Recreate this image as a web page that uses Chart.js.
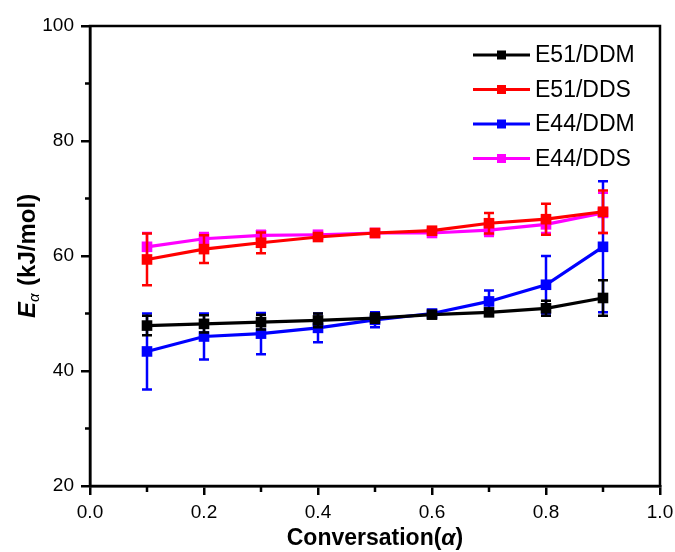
<!DOCTYPE html>
<html>
<head>
<meta charset="utf-8">
<script src="https://cdn.jsdelivr.net/npm/chart.js@4/dist/chart.umd.min.js"></script>
<style>
  html, body { margin: 0; padding: 0; background: #fff; }
  #wrap { width: 675px; height: 552px; }
</style>
</head>
<body>
<div id="wrap"><canvas id="eaChart" width="675" height="552"></canvas></div>
<script>
// conversion values on the x axis
const conversion = [0.1, 0.2, 0.3, 0.4, 0.5, 0.6, 0.7, 0.8, 0.9];

// Eα values (kJ/mol), with error bar half-widths
const e51ddm    = [47.9, 48.2, 48.5, 48.8, 49.2, 49.8, 50.2, 50.9, 52.7];
const e51ddmErr = [1.7, 1.5, 1.3, 1.2, 0.8, 0.5, 0.5, 1.3, 3.1];
const e51dds    = [59.4, 61.2, 62.3, 63.3, 64.0, 64.4, 65.7, 66.4, 67.7];
const e51ddsErr = [4.5, 2.4, 1.8, 0.6, 0.5, 0.6, 1.8, 2.7, 3.7];
const e44ddm    = [43.4, 46.0, 46.5, 47.5, 48.9, 50.0, 52.1, 55.0, 61.6];
const e44ddmErr = [6.6, 4.0, 3.6, 2.5, 1.3, 0.3, 1.9, 5.0, 11.4];
const e44dds    = [61.6, 63.0, 63.6, 63.7, 64.0, 64.0, 64.5, 65.5, 67.5];
const e44ddsErr = [2.4, 1.0, 0.8, 0.6, 0.4, 0.5, 1.0, 1.5, 3.5];

const seriesNames = ['E51/DDM', 'E51/DDS', 'E44/DDM', 'E44/DDS'];
const seriesColors = ['#000000', '#ff0000', '#0000ff', '#ff00ff'];

// minor tick positions
const xMinorTicks = [0.1, 0.3, 0.5, 0.7, 0.9];
const yMinorTicks = [30, 50, 70, 90];

const FONT = '"Liberation Sans", Arial, sans-serif';

const allValues = [e51ddm, e51dds, e44ddm, e44dds];
const allErrors = [e51ddmErr, e51ddsErr, e44ddmErr, e44ddsErr];

function toPoints(vals) {
    return conversion.map((x, i) => ({ x: x, y: vals[i] }));
}

// error bars, drawn under each dataset's line
const errorBars = {
    id: 'errorBars',
    beforeDatasetDraw(chart, args) {
        const i = args.index;
        const ctx = chart.ctx;
        const xs = chart.scales.x, ys = chart.scales.y;
        ctx.save();
        ctx.strokeStyle = seriesColors[i];
        ctx.lineWidth = 2.5;
        allValues[i].forEach((v, j) => {
            const px = xs.getPixelForValue(conversion[j]);
            const top = ys.getPixelForValue(v + allErrors[i][j]);
            const bot = ys.getPixelForValue(v - allErrors[i][j]);
            ctx.beginPath();
            ctx.moveTo(px, top); ctx.lineTo(px, bot);
            ctx.moveTo(px - 5, top); ctx.lineTo(px + 5, top);
            ctx.moveTo(px - 5, bot); ctx.lineTo(px + 5, bot);
            ctx.stroke();
        });
        ctx.restore();
    }
};

// frame, minor ticks, legend and axis titles
const decorations = {
    id: 'decorations',
    afterDraw(chart) {
        const ctx = chart.ctx;
        const a = chart.chartArea;
        const xs = chart.scales.x, ys = chart.scales.y;
        ctx.save();
        ctx.strokeStyle = '#000';
        ctx.lineWidth = 2.5;
        ctx.strokeRect(a.left, a.top, a.right - a.left, a.bottom - a.top);

        ctx.beginPath();
        xMinorTicks.forEach(v => {
            const px = xs.getPixelForValue(v);
            ctx.moveTo(px, a.bottom); ctx.lineTo(px, a.bottom + 6);
        });
        yMinorTicks.forEach(v => {
            const py = ys.getPixelForValue(v);
            ctx.moveTo(a.left, py); ctx.lineTo(a.left - 5, py);
        });
        ctx.stroke();

        // legend
        seriesNames.forEach((name, i) => {
            const y = 55 + i * 34.5;
            ctx.strokeStyle = seriesColors[i];
            ctx.lineWidth = 3;
            ctx.beginPath();
            ctx.moveTo(473, y); ctx.lineTo(530, y);
            ctx.stroke();
            ctx.fillStyle = seriesColors[i];
            ctx.fillRect(497, y - 4.5, 9, 9);
            ctx.fillStyle = '#000';
            ctx.font = '23px ' + FONT;
            ctx.textBaseline = 'middle';
            ctx.textAlign = 'left';
            ctx.fillText(name, 535, y + 1);
        });

        // y title: E_α (kJ/mol)
        ctx.save();
        ctx.translate(26, (a.top + a.bottom) / 2);
        ctx.rotate(-Math.PI / 2);
        ctx.fillStyle = '#000';
        ctx.textBaseline = 'alphabetic';
        ctx.textAlign = 'left';
        const fBig = 'bold 24px ' + FONT;
        const fE = 'italic bold 24px ' + FONT;
        const fSub = 'italic 15px ' + FONT;
        ctx.font = fE; const wE = ctx.measureText('E').width;
        ctx.font = fSub; const wS = ctx.measureText('α').width;
        ctx.font = fBig; const wR = ctx.measureText(' (kJ/mol)').width;
        let x0 = -(wE + wS + 1 + wR) / 2;
        ctx.font = fE; ctx.fillText('E', x0, 8.5);
        ctx.font = fSub; ctx.fillText('α', x0 + wE, 13);
        ctx.font = fBig; ctx.fillText(' (kJ/mol)', x0 + wE + wS + 1, 8.5);
        ctx.restore();

        // x title: Conversation(α)
        const cx = (a.left + a.right) / 2;
        const fX = 'bold 23px ' + FONT;
        const fXi = 'italic bold 23px ' + FONT;
        ctx.font = fX; const w1 = ctx.measureText('Conversation(').width;
        ctx.font = fXi; const w2 = ctx.measureText('α').width;
        ctx.font = fX; const w3 = ctx.measureText(')').width;
        let sx = cx - (w1 + w2 + w3) / 2;
        ctx.fillStyle = '#000';
        ctx.textBaseline = 'alphabetic';
        ctx.textAlign = 'left';
        ctx.font = fX; ctx.fillText('Conversation(', sx, 545);
        ctx.font = fXi; ctx.fillText('α', sx + w1, 545);
        ctx.font = fX; ctx.fillText(')', sx + w1 + w2, 545);
        ctx.restore();
    }
};

const datasets = allValues.map((vals, i) => ({
    label: seriesNames[i],
    data: toPoints(vals),
    borderColor: seriesColors[i],
    backgroundColor: seriesColors[i],
    borderWidth: 3.2,
    pointStyle: 'rect',
    pointRadius: 7.5,
    pointBorderWidth: 0,
    tension: 0
}));

new Chart(document.getElementById('eaChart'), {
    type: 'line',
    data: { datasets: datasets },
    options: {
        responsive: false,
        animation: false,
        events: [],
        layout: { padding: { left: 0, right: 15, top: 26, bottom: 0 } },
        plugins: { legend: { display: false }, tooltip: { enabled: false } },
        scales: {
            x: {
                type: 'linear',
                min: 0, max: 1,
                afterFit: s => { s.height = 66; s.paddingRight = 0; s.paddingLeft = 0; },
                ticks: {
                    stepSize: 0.2,
                    padding: 6,
                    color: '#000',
                    font: { family: FONT, size: 19 },
                    callback: v => v.toFixed(1)
                },
                grid: { drawOnChartArea: false, drawTicks: true, tickLength: 9, lineWidth: 2.5, color: '#000' },
                border: { display: true, color: '#000', width: 2.5 }
            },
            y: {
                type: 'linear',
                min: 20, max: 100,
                afterFit: s => { s.width = 90; s.paddingTop = 0; s.paddingBottom = 0; },
                ticks: {
                    stepSize: 20,
                    padding: 7,
                    color: '#000',
                    font: { family: FONT, size: 19 }
                },
                grid: { drawOnChartArea: false, drawTicks: true, tickLength: 9, lineWidth: 2.5, color: '#000' },
                border: { display: true, color: '#000', width: 2.5 }
            }
        }
    },
    plugins: [errorBars, decorations]
});
</script>
</body>
</html>
